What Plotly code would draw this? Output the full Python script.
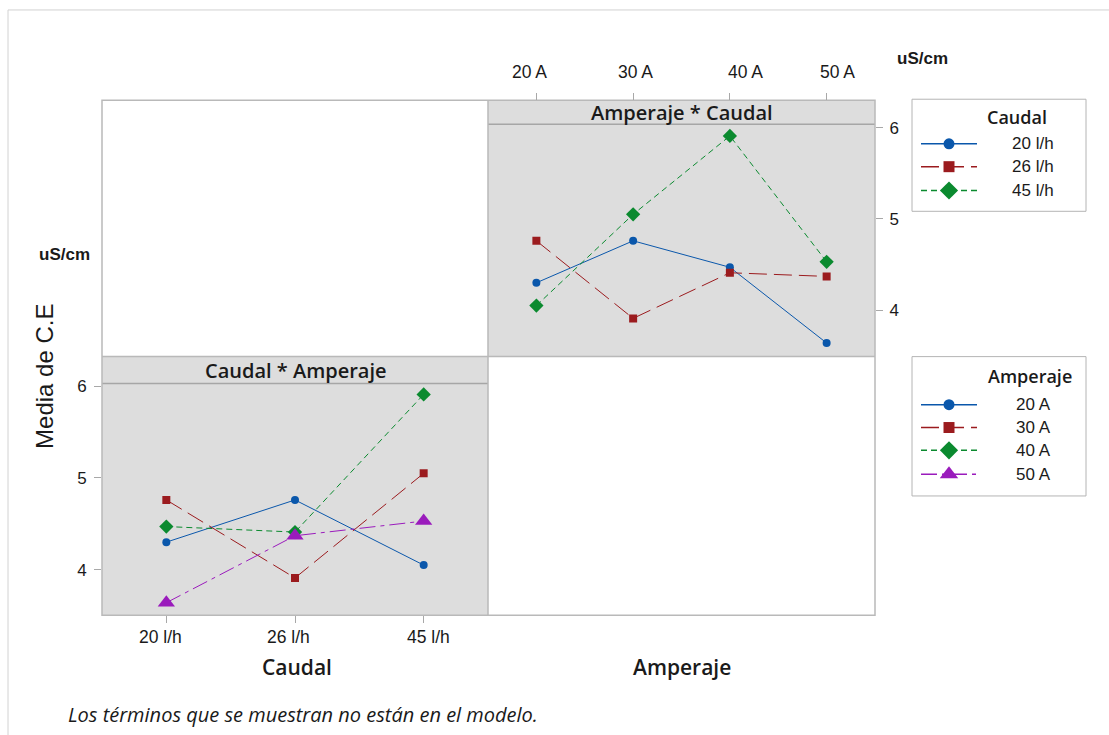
import plotly.graph_objects as go

# ---- data: mean C.E (uS/cm) ----
caudal = ["20 l/h", "26 l/h", "45 l/h"]
amperaje = ["20 A", "30 A", "40 A", "50 A"]

# one row per caudal, values ordered by amperaje
ce_20lh = [4.30, 4.76, 4.47, 3.64]
ce_26lh = [4.76, 3.91, 4.41, 4.37]
ce_45lh = [4.05, 5.05, 5.91, 4.53]
y_ticks = [4, 5, 6]

rows = [ce_20lh, ce_26lh, ce_45lh]

W, H = 1109, 735


def px(x):
    return x / W


def py(y):
    return 1 - y / H


BLUE = "#0a57ab"
RED = "#9b1b1e"
GREEN = "#0b8a2f"
PURPLE = "#9a1bbc"
TXT = "#1a1a1a"
BORDER = "#b9b9b9"
PANEL = "#dddddd"
TICKC = "#a8a8a8"

styles = [
    dict(color=BLUE, dash="solid", symbol="circle", size=8, lsize=11),
    dict(color=RED, dash="18px,7px", symbol="square", size=8, lsize=11),
    dict(color=GREEN, dash="6px,4px", symbol="diamond", size=11, lsize=14),
    dict(color=PURPLE, dash="16px,5px,4px,5px", symbol="triangle-up", size=15, lsize=16),
]

fig = go.Figure()

# Amperaje * Caudal panel: one line per caudal across amperaje
for name, vals, st in zip(caudal, rows, styles):
    fig.add_trace(go.Scatter(
        x=amperaje, y=vals, name=name, mode="lines+markers",
        xaxis="x2", yaxis="y2", showlegend=False,
        line=dict(color=st["color"], width=1, dash=st["dash"]),
        marker=dict(color=st["color"], symbol=st["symbol"], size=st["size"],
                    line=dict(width=0)),
    ))

# Caudal * Amperaje panel: one line per amperaje across caudal
for j, (name, st) in enumerate(zip(amperaje, styles)):
    vals = [r[j] for r in rows]
    fig.add_trace(go.Scatter(
        x=caudal, y=vals, name=name, mode="lines+markers",
        xaxis="x", yaxis="y", showlegend=False,
        line=dict(color=st["color"], width=1, dash=st["dash"]),
        marker=dict(color=st["color"], symbol=st["symbol"], size=st["size"],
                    line=dict(width=0)),
    ))


# legend keys drawn on a full-page pixel axis
def legend_key(row_y, st):
    fig.add_trace(go.Scatter(
        x=[921, 977], y=[row_y, row_y], mode="lines", xaxis="x3", yaxis="y3",
        showlegend=False, hoverinfo="skip",
        line=dict(color=st["color"], width=1.5, dash=st["dash"]),
    ))
    fig.add_trace(go.Scatter(
        x=[949], y=[row_y], mode="markers", xaxis="x3", yaxis="y3",
        showlegend=False, hoverinfo="skip",
        marker=dict(color=st["color"], symbol=st["symbol"], size=st["lsize"],
                    line=dict(width=0)),
    ))


caudal_rows = [139, 162, 186]
amp_rows = [402, 425, 448, 472]
for ry, st in zip(caudal_rows, styles[:3]):
    legend_key(ry, st)
for ry, st in zip(amp_rows, styles):
    legend_key(ry, st)

ARIAL = "Liberation Sans, Arial, sans-serif"
SEMI = "Open Sans, Noto Sans, sans-serif"

tickfont = dict(family=ARIAL, size=17, color=TXT)
common = dict(showgrid=False, zeroline=False, showline=False, ticks="outside",
              ticklen=7, tickwidth=1, tickcolor=TICKC, tickfont=tickfont,
              fixedrange=True)

fig.update_layout(
    width=W, height=H,
    margin=dict(l=0, r=0, t=0, b=0),
    paper_bgcolor="white",
    plot_bgcolor="rgba(0,0,0,0)",
    xaxis=dict(domain=[px(102), px(488)], anchor="y", type="category",
               categoryorder="array", categoryarray=caudal,
               range=[-0.5, 2.5], showticklabels=False, **common),
    yaxis=dict(domain=[py(614.3), py(380.7)], anchor="x",
               range=[3.503, 6.028], tickvals=y_ticks, ticklabelstandoff=4,
               **common),
    xaxis2=dict(domain=[px(488), px(875)], anchor="free", position=py(95),
                side="top", type="category", categoryorder="array",
                categoryarray=amperaje, range=[-0.5, 3.5],
                showticklabels=False, **common),
    yaxis2=dict(domain=[py(353.3), py(119.3)], anchor="free", position=px(875),
                side="right", range=[3.493, 6.037], tickvals=y_ticks,
                ticklabelstandoff=3, **common),
    xaxis3=dict(domain=[0, 1], anchor="y3", range=[0, W], visible=False,
                fixedrange=True),
    yaxis3=dict(domain=[0, 1], anchor="x3", range=[H, 0], visible=False,
                fixedrange=True),
)

shapes = []


def rect(x0, y0, x1, y1, fill=None, line=None, width=1, layer="below"):
    shapes.append(dict(type="rect", xref="paper", yref="paper",
                       x0=px(x0), x1=px(x1), y0=py(y0), y1=py(y1),
                       fillcolor=fill or "rgba(0,0,0,0)",
                       line=dict(color=line or "rgba(0,0,0,0)", width=width),
                       layer=layer))


def hline(x0, x1, y, color, width=1, layer="below"):
    shapes.append(dict(type="line", xref="paper", yref="paper",
                       x0=px(x0), x1=px(x1), y0=py(y), y1=py(y),
                       line=dict(color=color, width=width), layer=layer))


def vline(x, y0, y1, color, width=1, layer="below"):
    shapes.append(dict(type="line", xref="paper", yref="paper",
                       x0=px(x), x1=px(x), y0=py(y0), y1=py(y1),
                       line=dict(color=color, width=width), layer=layer))


# page frame
hline(8, W, 4, "#d2d2d2")
vline(8, 4, H, "#d2d2d2")

# shaded panels
rect(488, 95, 875, 353.3, fill=PANEL)
rect(102, 353.3, 488, 614.3, fill=PANEL)
# strip separators
hline(488, 875, 119.3, "#a6a6a6", 1.5)
hline(102, 488, 380.7, "#a6a6a6", 1.5)
# matrix borders
rect(102, 95, 875, 614.3, line=BORDER, width=1.5)
vline(488, 95, 614.3, BORDER, 1.5)
hline(102, 875, 353.3, BORDER, 1.5)

# legend boxes
rect(912, 94, 1086, 207, line="#b4b4b4", width=1)
rect(912, 353.5, 1086, 494, line="#b4b4b4", width=1)

fig.update_layout(shapes=shapes)

ann = []


def text(x, y, s, size, family=ARIAL, weight=None, xanchor="center",
         style=None, angle=0):
    f = dict(family=family, size=size, color=TXT)
    if weight:
        f["weight"] = weight
    if style:
        f["style"] = style
    ann.append(dict(x=px(x), y=py(y), xref="paper", yref="paper", text=s,
                    showarrow=False, xanchor=xanchor, yanchor="middle",
                    font=f, textangle=angle))


# category labels of the two x axes
top_label_x = [529, 635, 745, 837]
bottom_label_x = [160, 288, 428]
for lx, lab in zip(top_label_x, amperaje):
    text(lx, 67, lab, 17.5)
for lx, lab in zip(bottom_label_x, caudal):
    text(lx, 636, lab, 17.5)

text(681.5, 107, "Amperaje * Caudal", 20, SEMI, 600)
text(296, 367, "Caudal * Amperaje", 20, SEMI, 600)
text(922, 53, "uS/cm", 17, ARIAL, 700)
text(92, 251, "uS/cm", 17, ARIAL, 700, xanchor="right")
text(45, 374, "Media de C.E", 24, ARIAL, angle=-90)
text(297, 666, "Caudal", 21, SEMI, 600)
text(682, 666, "Amperaje", 21, SEMI, 600)
text(66, 714, "Los términos que se muestran no están en el modelo.", 20,
     SEMI, xanchor="left", style="italic")

# legend titles and entries
text(1017, 112, "Caudal", 18, SEMI, 600)
for ry, lab in zip(caudal_rows, caudal):
    text(1010, ry, lab, 17, ARIAL, xanchor="left")
text(1030, 373, "Amperaje", 18, SEMI, 600)
for ry, lab in zip(amp_rows, amperaje):
    text(1014, ry, lab, 17, ARIAL, xanchor="left")

fig.update_layout(annotations=ann)

fig.write_html("out.html", post_script="document.body.style.margin='0px';")
